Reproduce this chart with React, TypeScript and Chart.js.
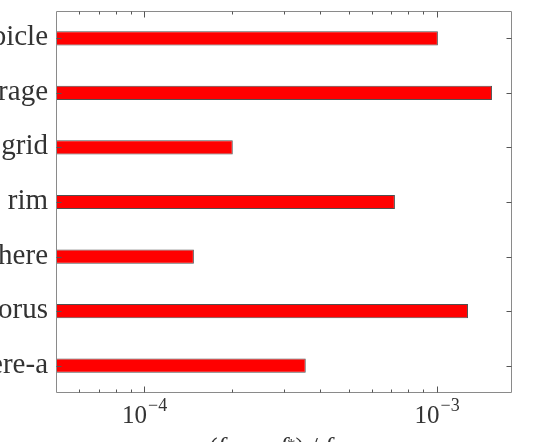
import React, { useEffect, useRef } from "react";
import { Chart, registerables } from "chart.js";

Chart.register(...registerables);

const categories = ["cubicle", "garage", "grid", "rim", "sphere", "torus", "sphere-a"];
const errors = [1.01e-3, 1.546e-3, 2.01e-4, 7.2e-4, 1.48e-4, 1.28e-3, 3.57e-4];
const xMin = 5e-5;
const xMax = 1.81e-3;
const majorTicks = [1e-4, 1e-3];
const majorTickExps = ["−4", "−3"];

const SERIF = '"Liberation Serif", "Times New Roman", serif';

const framePlugin = {
  id: "frame",
  afterDatasetsDraw(chart: any) {
    const { ctx, chartArea: a, scales } = chart;
    const xs = scales.x;
    const ys = scales.y;
    const L = Math.round(a.left) + 0.5;
    const R = Math.round(a.right) - 0.5;
    const T = Math.round(a.top) + 0.5;
    const B = Math.round(a.bottom) - 0.5;
    ctx.save();
    ctx.strokeStyle = "#8a8a8a";
    ctx.lineWidth = 1;
    ctx.beginPath();
    ctx.moveTo(L, T);
    ctx.lineTo(R, T);
    ctx.lineTo(R, B);
    ctx.lineTo(L, B);
    ctx.closePath();
    ctx.stroke();

    ctx.strokeStyle = "#555";
    ctx.beginPath();
    categories.forEach((_, i) => {
      const py = Math.round(ys.getPixelForValue(i)) + 0.5;
      ctx.moveTo(L, py);
      ctx.lineTo(L + 5, py);
      ctx.moveTo(R, py);
      ctx.lineTo(R - 5, py);
    });
    ctx.stroke();

    ctx.beginPath();
    for (let e = -5; e <= -2; e++) {
      for (let k = 1; k <= 9; k++) {
        const v = k * Math.pow(10, e);
        if (v <= xMin || v >= xMax) continue;
        const px = Math.round(xs.getPixelForValue(v)) + 0.5;
        const len = k === 1 ? 6 : 3;
        ctx.moveTo(px, B);
        ctx.lineTo(px, B - len);
        ctx.moveTo(px, T);
        ctx.lineTo(px, T + len);
      }
    }
    ctx.stroke();

    ctx.fillStyle = "#333";
    ctx.font = `29px ${SERIF}`;
    ctx.textAlign = "right";
    ctx.textBaseline = "alphabetic";
    categories.forEach((c, i) => {
      const py = ys.getPixelForValue(i);
      ctx.fillText(c, a.left - 8, py + 7);
    });

    majorTicks.forEach((v, i) => {
      const px = xs.getPixelForValue(v);
      ctx.font = `25px ${SERIF}`;
      const wBase = ctx.measureText("10").width;
      ctx.font = `18px ${SERIF}`;
      const wExp = ctx.measureText(majorTickExps[i]).width;
      const start = px - (wBase + wExp) / 2;
      ctx.textAlign = "left";
      ctx.font = `25px ${SERIF}`;
      ctx.fillText("10", start, a.bottom + 30);
      ctx.font = `18px ${SERIF}`;
      ctx.fillText(majorTickExps[i], start + wBase + 1, a.bottom + 18);
    });

    const parts: [string, string, number][] = [
      ["(", `26px ${SERIF}`, 0],
      ["f", `italic 26px ${SERIF}`, 0],
      ["best", `italic 17px ${SERIF}`, 5],
      [" − ", `26px ${SERIF}`, 0],
      ["f", `italic 26px ${SERIF}`, 0],
      ["*", `17px ${SERIF}`, -5],
      [")", `26px ${SERIF}`, 0],
      [" / ", `26px ${SERIF}`, 0],
      ["f", `italic 26px ${SERIF}`, 0],
      ["best", `italic 17px ${SERIF}`, 5],
    ];
    let total = 0;
    parts.forEach(([t, f]) => {
      ctx.font = f;
      total += ctx.measureText(t).width;
    });
    let cx = (a.left + a.right) / 2 - total / 2;
    const baseY = a.bottom + 62;
    ctx.textAlign = "left";
    parts.forEach(([t, f, dy]) => {
      ctx.font = f;
      ctx.fillText(t, cx, baseY + dy);
      cx += ctx.measureText(t).width;
    });
    ctx.restore();
  },
};

export default function App() {
  const ref = useRef<HTMLCanvasElement | null>(null);
  useEffect(() => {
    if (!ref.current) return;
    const chart = new Chart(ref.current, {
      type: "bar",
      data: {
        labels: categories,
        datasets: [
          {
            data: errors,
            backgroundColor: "#ff0000",
            borderColor: "#505050",
            borderWidth: 1,
            borderSkipped: false,
            categoryPercentage: 1,
            barPercentage: 0.26,
          },
        ],
      },
      options: {
        indexAxis: "y",
        animation: false,
        responsive: false,
        layout: { padding: { left: 56, right: 26, top: 11, bottom: 49 } },
        plugins: { legend: { display: false }, tooltip: { enabled: false } },
        scales: {
          x: { type: "logarithmic", min: xMin, max: xMax, display: false },
          y: { type: "category", display: false },
        },
      },
      plugins: [framePlugin],
    });
    return () => chart.destroy();
  }, []);
  return (
    <div style={{ position: "fixed", left: 0, top: 0, width: 538, height: 442, overflow: "hidden", background: "#fff" }}>
      <canvas ref={ref} width={538} height={442} style={{ display: "block" }} />
    </div>
  );
}
